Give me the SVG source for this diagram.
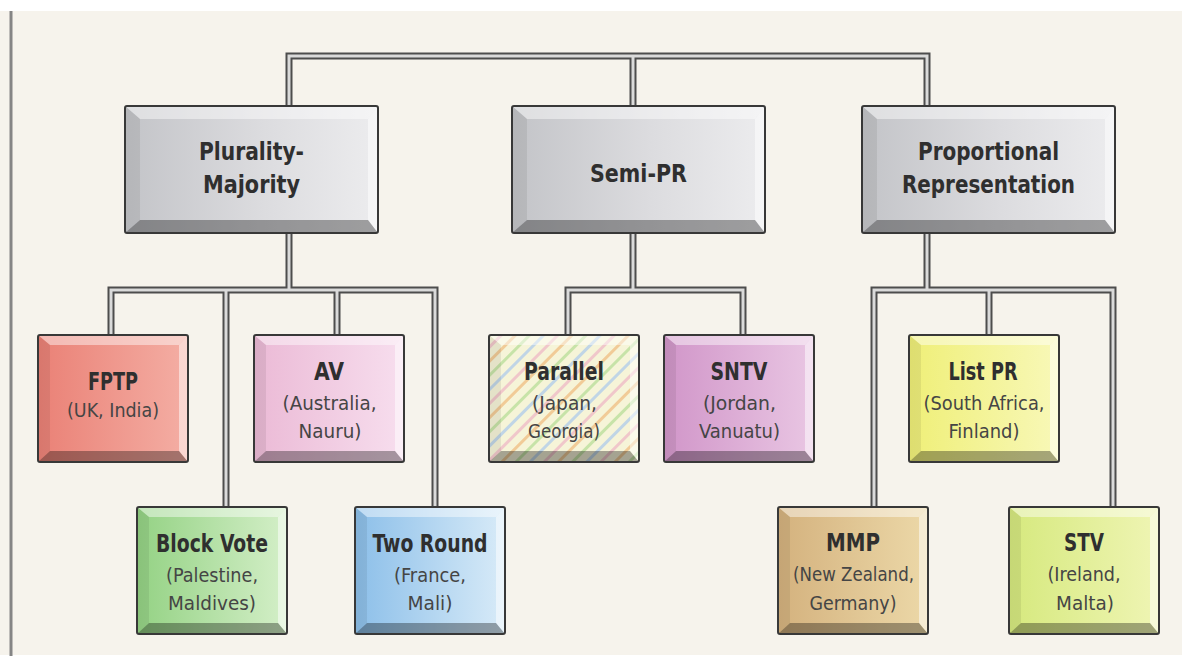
<svg xmlns="http://www.w3.org/2000/svg" width="1182" height="658" viewBox="0 0 1182 658">
<style>
.pipe-o{fill:none;stroke:#4d4d4d;stroke-width:7;stroke-linejoin:miter}
.pipe-i{fill:none;stroke:#dadada;stroke-width:3;stroke-linejoin:miter}
.frame{fill:none;stroke:#383838;stroke-width:2}
.ft{fill:#fff;opacity:.45}
.fl{fill:#000;opacity:.07}
.fr{fill:#fff;opacity:.5}
.fb{fill:#000;opacity:.33}
.t{font-family:"Liberation Sans Narrow","DejaVu Sans Condensed","Liberation Sans",sans-serif;text-anchor:middle}
.h1{font-size:25px;font-weight:bold;fill:#2f2f2f}
.h2{font-size:24px;font-weight:bold;fill:#2f2f2f}
.s{font-size:20px;fill:#454545}
</style>
<defs>
<linearGradient id="gSilver" x1="0" y1="0" x2="1" y2="0"><stop offset="0" stop-color="#c3c4c8"/><stop offset="0.55" stop-color="#dcdcdf"/><stop offset="1" stop-color="#ececee"/></linearGradient>
<linearGradient id="gRed" x1="0" y1="0" x2="1" y2="0"><stop offset="0" stop-color="#ea8176"/><stop offset="1" stop-color="#f4aea4"/></linearGradient>
<linearGradient id="gPink" x1="0" y1="0" x2="1" y2="0"><stop offset="0" stop-color="#ebbad6"/><stop offset="1" stop-color="#f7deee"/></linearGradient>
<linearGradient id="gGreen" x1="0" y1="0" x2="1" y2="0"><stop offset="0" stop-color="#94d284"/><stop offset="1" stop-color="#d4efc8"/></linearGradient>
<linearGradient id="gBlue" x1="0" y1="0" x2="1" y2="0"><stop offset="0" stop-color="#8cbfe9"/><stop offset="1" stop-color="#d8ebf8"/></linearGradient>
<linearGradient id="gPurple" x1="0" y1="0" x2="1" y2="0"><stop offset="0" stop-color="#d196c9"/><stop offset="1" stop-color="#e9c6e3"/></linearGradient>
<linearGradient id="gYellow" x1="0" y1="0" x2="1" y2="0"><stop offset="0" stop-color="#efef78"/><stop offset="1" stop-color="#f8f8b8"/></linearGradient>
<linearGradient id="gTan" x1="0" y1="0" x2="1" y2="0"><stop offset="0" stop-color="#d4b27e"/><stop offset="1" stop-color="#ecd8a8"/></linearGradient>
<linearGradient id="gLime" x1="0" y1="0" x2="1" y2="0"><stop offset="0" stop-color="#d6e97e"/><stop offset="1" stop-color="#eff5b4"/></linearGradient>
<pattern id="pStripe" width="40" height="40" patternUnits="userSpaceOnUse" patternTransform="rotate(45)">
<rect x="0" y="0" width="3" height="40" fill="#f0c48c"/>
<rect x="10" y="0" width="3" height="40" fill="#bfe0a0"/>
<rect x="20" y="0" width="3" height="40" fill="#b6cfe8"/>
<rect x="30" y="0" width="3" height="40" fill="#efbfc8"/>
</pattern>
<g id="bevL">
<polygon class="ft" points="0,0 253,0 243,13 15,13"/>
<polygon class="fl" points="0,0 15,13 15,114 0,127"/>
<polygon class="fr" points="253,0 253,127 243,114 243,13"/>
<polygon class="fb" points="0,127 15,114 243,114 253,127"/>
<rect class="frame" x="0" y="0" width="253" height="127" rx="2"/>
</g>
<g id="bevS">
<polygon class="ft" points="0,0 150,0 141,10 12,10"/>
<polygon class="fl" points="0,0 12,10 12,116 0,127"/>
<polygon class="fr" points="150,0 150,127 141,116 141,10"/>
<polygon class="fb" points="0,127 12,116 141,116 150,127"/>
<rect class="frame" x="0" y="0" width="150" height="127" rx="2"/>
</g>
<path id="wires" d="M289,112 V56 H927 V112 M633,56 V112 M289,228 V290 M111,340 V290 H435 V512 M226,290 V512 M337,290 V340 M633,228 V290 M568,340 V290 H743 V340 M927,228 V290 M874,512 V290 H1113 V512 M989,290 V340"/>
</defs>

<rect x="0" y="0" width="1182" height="658" fill="#ffffff"/>
<rect x="0" y="11" width="1182" height="644" fill="#f6f3ec"/>
<line x1="11" y1="11" x2="11" y2="656" stroke="#858585" stroke-width="3"/>

<g id="connectors">
<use href="#wires" class="pipe-o"/>
<use href="#wires" class="pipe-i"/>
</g>

<g id="plurality-majority">
<rect x="125" y="106" width="253" height="127" fill="url(#gSilver)"/>
<use href="#bevL" x="125" y="106"/>
<text class="t h1" x="251.5" y="160" textLength="105" lengthAdjust="spacingAndGlyphs">Plurality-</text>
<text class="t h1" x="251.5" y="193" textLength="97" lengthAdjust="spacingAndGlyphs">Majority</text>
</g>

<g id="semi-pr">
<rect x="512" y="106" width="253" height="127" fill="url(#gSilver)"/>
<use href="#bevL" x="512" y="106"/>
<text class="t h1" x="638.5" y="182" textLength="97" lengthAdjust="spacingAndGlyphs">Semi-PR</text>
</g>

<g id="proportional-representation">
<rect x="862" y="106" width="253" height="127" fill="url(#gSilver)"/>
<use href="#bevL" x="862" y="106"/>
<text class="t h1" x="988.5" y="160" textLength="141" lengthAdjust="spacingAndGlyphs">Proportional</text>
<text class="t h1" x="988.5" y="193" textLength="173" lengthAdjust="spacingAndGlyphs">Representation</text>
</g>

<g id="fptp">
<rect x="38" y="335" width="150" height="127" fill="url(#gRed)"/>
<use href="#bevS" x="38" y="335"/>
<text class="t h2" x="113" y="390" textLength="50" lengthAdjust="spacingAndGlyphs">FPTP</text>
<text class="t s" x="113" y="417" textLength="92" lengthAdjust="spacingAndGlyphs">(UK, India)</text>
</g>

<g id="av">
<rect x="254" y="335" width="150" height="127" fill="url(#gPink)"/>
<use href="#bevS" x="254" y="335"/>
<text class="t h2" x="329" y="380" textLength="30" lengthAdjust="spacingAndGlyphs">AV</text>
<text class="t s" x="329.5" y="410" textLength="94" lengthAdjust="spacingAndGlyphs">(Australia,</text>
<text class="t s" x="330" y="438" textLength="63" lengthAdjust="spacingAndGlyphs">Nauru)</text>
</g>

<g id="parallel">
<rect x="489" y="335" width="150" height="127" fill="#f6f4d8"/>
<rect x="489" y="335" width="150" height="127" fill="url(#pStripe)" opacity="0.85"/>
<use href="#bevS" x="489" y="335"/>
<text class="t h2" x="564" y="380" textLength="80" lengthAdjust="spacingAndGlyphs">Parallel</text>
<text class="t s" x="564.5" y="410" textLength="65" lengthAdjust="spacingAndGlyphs">(Japan,</text>
<text class="t s" x="564" y="438" textLength="72" lengthAdjust="spacingAndGlyphs">Georgia)</text>
</g>

<g id="sntv">
<rect x="664" y="335" width="150" height="127" fill="url(#gPurple)"/>
<use href="#bevS" x="664" y="335"/>
<text class="t h2" x="739" y="380" textLength="57" lengthAdjust="spacingAndGlyphs">SNTV</text>
<text class="t s" x="739.5" y="410" textLength="73" lengthAdjust="spacingAndGlyphs">(Jordan,</text>
<text class="t s" x="739.5" y="438" textLength="81" lengthAdjust="spacingAndGlyphs">Vanuatu)</text>
</g>

<g id="list-pr">
<rect x="909" y="335" width="150" height="127" fill="url(#gYellow)"/>
<use href="#bevS" x="909" y="335"/>
<text class="t h2" x="983" y="380" textLength="69" lengthAdjust="spacingAndGlyphs">List PR</text>
<text class="t s" x="984" y="410" textLength="121" lengthAdjust="spacingAndGlyphs">(South Africa,</text>
<text class="t s" x="984" y="438" textLength="71" lengthAdjust="spacingAndGlyphs">Finland)</text>
</g>

<g id="block-vote">
<rect x="137" y="507" width="150" height="127" fill="url(#gGreen)"/>
<use href="#bevS" x="137" y="507"/>
<text class="t h2" x="212" y="552" textLength="112" lengthAdjust="spacingAndGlyphs">Block Vote</text>
<text class="t s" x="212" y="582" textLength="92" lengthAdjust="spacingAndGlyphs">(Palestine,</text>
<text class="t s" x="212" y="610" textLength="88" lengthAdjust="spacingAndGlyphs">Maldives)</text>
</g>

<g id="two-round">
<rect x="355" y="507" width="150" height="127" fill="url(#gBlue)"/>
<use href="#bevS" x="355" y="507"/>
<text class="t h2" x="430" y="552" textLength="115" lengthAdjust="spacingAndGlyphs">Two Round</text>
<text class="t s" x="430" y="582" textLength="72" lengthAdjust="spacingAndGlyphs">(France,</text>
<text class="t s" x="430" y="610" textLength="45" lengthAdjust="spacingAndGlyphs">Mali)</text>
</g>

<g id="mmp">
<rect x="778" y="507" width="150" height="127" fill="url(#gTan)"/>
<use href="#bevS" x="778" y="507"/>
<text class="t h2" x="853" y="551" textLength="54" lengthAdjust="spacingAndGlyphs">MMP</text>
<text class="t s" x="853.5" y="581" textLength="121" lengthAdjust="spacingAndGlyphs">(New Zealand,</text>
<text class="t s" x="853" y="610" textLength="87" lengthAdjust="spacingAndGlyphs">Germany)</text>
</g>

<g id="stv">
<rect x="1009" y="507" width="150" height="127" fill="url(#gLime)"/>
<use href="#bevS" x="1009" y="507"/>
<text class="t h2" x="1084" y="551" textLength="40" lengthAdjust="spacingAndGlyphs">STV</text>
<text class="t s" x="1084" y="581" textLength="73" lengthAdjust="spacingAndGlyphs">(Ireland,</text>
<text class="t s" x="1085" y="610" textLength="58" lengthAdjust="spacingAndGlyphs">Malta)</text>
</g>
</svg>
